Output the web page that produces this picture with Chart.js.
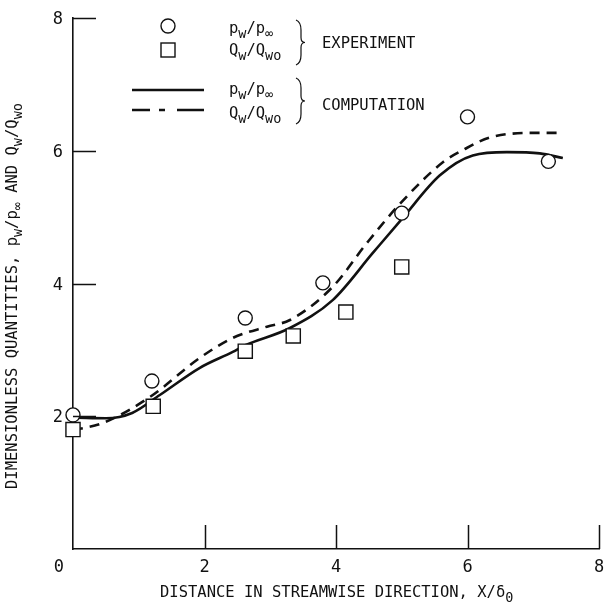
<!DOCTYPE html>
<html>
<head>
<meta charset="utf-8">
<script src="https://cdn.jsdelivr.net/npm/chart.js@4.4.1/dist/chart.umd.min.js"></script>
<style>
  html, body { margin: 0; padding: 0; background: #fff; }
  #wrap { width: 606px; height: 607px; }
</style>
</head>
<body>
<div id="wrap"><canvas id="flowChart" width="606" height="607"></canvas></div>
<script>
// experiment: wall pressure ratio (circles) and heating ratio (squares)
var expPressureX = [0.0, 1.2, 2.62, 3.8, 5.0, 6.0, 7.23];
var expPressure = [2.02, 2.53, 3.48, 4.01, 5.06, 6.51, 5.84];
var expHeatX = [0.0, 1.22, 2.62, 3.35, 4.15, 5.0];
var expHeat = [1.8, 2.15, 2.98, 3.21, 3.57, 4.25];

// computation: solid = pressure, dashed = heating
var compPressureX = [0.05, 0.5, 0.9, 1.32, 1.93, 2.43, 2.62, 3.3, 3.95, 4.56, 5.0, 5.58, 6.08, 6.6, 7.1, 7.45];
var compPressure = [1.98, 1.97, 2.05, 2.32, 2.73, 2.97, 3.07, 3.33, 3.75, 4.46, 4.97, 5.63, 5.93, 5.98, 5.96, 5.89];
var compHeatX = [0.0, 0.46, 1.17, 1.93, 2.43, 2.95, 3.3, 3.95, 4.47, 5.0, 5.63, 5.93, 6.34, 7.1, 7.38];
var compHeat = [1.79, 1.90, 2.29, 2.88, 3.18, 3.35, 3.45, 3.95, 4.61, 5.23, 5.83, 6.01, 6.2, 6.27, 6.27];

var xTicks = [0, 2, 4, 6, 8];
var yTicks = [2, 4, 6, 8];

var INK = '#111';
var MONO = '"DejaVu Sans Mono", monospace';
var MAIN_FONT = '15.5px ' + MONO;
var SUB_FONT = '13.5px ' + MONO;
var TICK_FONT = '17px ' + MONO;

function pairs(xs, ys) {
  return xs.map(function (x, i) { return { x: x, y: ys[i] }; });
}

// text with subscripts: parts = [[string, isSub], ...]
function richText(ctx, parts, x, y) {
  parts.forEach(function (p) {
    ctx.font = p[1] ? SUB_FONT : MAIN_FONT;
    ctx.fillText(p[0], x, y + (p[1] ? 5 : 0));
    x += ctx.measureText(p[0]).width;
  });
  return x;
}

var pRatio = [['p', 0], ['w', 1], ['/p', 0], ['\u221E', 1]];
var qRatio = [['Q', 0], ['w', 1], ['/Q', 0], ['wo', 1]];

function brace(ctx, x, top, bottom) {
  var mid = (top + bottom) / 2;
  ctx.beginPath();
  ctx.moveTo(x, top);
  ctx.quadraticCurveTo(x + 5, top + 2, x + 5, top + 10);
  ctx.lineTo(x + 5, mid - 5);
  ctx.quadraticCurveTo(x + 5, mid, x + 9, mid);
  ctx.quadraticCurveTo(x + 5, mid, x + 5, mid + 5);
  ctx.lineTo(x + 5, bottom - 10);
  ctx.quadraticCurveTo(x + 5, bottom - 2, x, bottom);
  ctx.stroke();
}

var paperText = {
  id: 'paperText',
  afterDraw: function (chart) {
    var ctx = chart.ctx;
    var xs = chart.scales.x, ys = chart.scales.y;
    var area = chart.chartArea;
    ctx.save();
    ctx.fillStyle = INK;
    ctx.strokeStyle = INK;

    // inward ticks
    ctx.lineWidth = 1.5;
    ctx.beginPath();
    yTicks.forEach(function (v) {
      var py = Math.round(ys.getPixelForValue(v)) + 0.5;
      ctx.moveTo(area.left, py);
      ctx.lineTo(area.left + 23, py);
    });
    xTicks.forEach(function (v) {
      if (v === 0) return;
      var px = Math.round(xs.getPixelForValue(v)) + 0.5;
      ctx.moveTo(px, area.bottom);
      ctx.lineTo(px, area.bottom - 24);
    });
    ctx.stroke();

    // tick labels
    ctx.font = TICK_FONT;
    ctx.textBaseline = 'alphabetic';
    ctx.textAlign = 'right';
    yTicks.forEach(function (v) {
      ctx.fillText(String(v), area.left - 10, ys.getPixelForValue(v) + 6);
    });
    xTicks.forEach(function (v) {
      if (v === 0) {
        ctx.textAlign = 'right';
        ctx.fillText('0', area.left - 9, area.bottom + 23);
      } else {
        ctx.textAlign = 'center';
        ctx.fillText(String(v), xs.getPixelForValue(v), area.bottom + 23);
      }
    });

    // axis titles
    ctx.textAlign = 'left';
    richText(ctx, [['DISTANCE IN STREAMWISE DIRECTION, X/\u03B4', 0], ['0', 1]], 160, 597);

    ctx.save();
    ctx.translate(17, 489);
    ctx.rotate(-Math.PI / 2);
    richText(ctx, [['DIMENSIONLESS QUANTITIES, ', 0]].concat(pRatio, [[' AND ', 0]], qRatio), 0, 0);
    ctx.restore();

    // key
    ctx.lineWidth = 1.4;
    ctx.beginPath();
    ctx.arc(168, 26, 7, 0, Math.PI * 2);
    ctx.stroke();
    ctx.strokeRect(161, 43, 14, 14);

    richText(ctx, pRatio, 229, 33);
    richText(ctx, qRatio, 229, 55);
    richText(ctx, pRatio, 229, 94);
    richText(ctx, qRatio, 229, 118);

    ctx.lineWidth = 1.2;
    brace(ctx, 296, 20, 65);
    brace(ctx, 296, 78, 124);

    ctx.font = MAIN_FONT;
    ctx.fillText('EXPERIMENT', 322, 48);
    ctx.fillText('COMPUTATION', 322, 110);

    ctx.lineWidth = 2.6;
    ctx.beginPath();
    ctx.moveTo(132, 90);
    ctx.lineTo(204, 90);
    ctx.stroke();
    ctx.setLineDash([18, 9, 6, 12, 27]);
    ctx.beginPath();
    ctx.moveTo(132, 110);
    ctx.lineTo(204, 110);
    ctx.stroke();
    ctx.setLineDash([]);

    ctx.restore();
  }
};

var axisBorder = { display: true, color: INK, width: 1.6 };

new Chart(document.getElementById('flowChart').getContext('2d'), {
  type: 'scatter',
  data: {
    datasets: [
      {
        label: 'pw/p computed',
        data: pairs(compPressureX, compPressure),
        showLine: true,
        borderColor: INK,
        borderWidth: 2.6,
        pointRadius: 0,
        cubicInterpolationMode: 'monotone',
        fill: false,
        order: 2
      },
      {
        label: 'Qw/Qwo computed',
        data: pairs(compHeatX, compHeat),
        showLine: true,
        borderColor: INK,
        borderWidth: 2.6,
        borderDash: [10, 7],
        pointRadius: 0,
        cubicInterpolationMode: 'monotone',
        fill: false,
        order: 2
      },
      {
        label: 'pw/p experiment',
        data: pairs(expPressureX, expPressure),
        pointStyle: 'circle',
        pointRadius: 7,
        pointBorderWidth: 1.4,
        pointBorderColor: INK,
        pointBackgroundColor: '#fff',
        clip: false,
        order: 0
      },
      {
        label: 'Qw/Qwo experiment',
        data: pairs(expHeatX, expHeat),
        pointStyle: 'rect',
        pointRadius: 10,
        pointBorderWidth: 1.4,
        pointBorderColor: INK,
        pointBackgroundColor: '#fff',
        clip: false,
        order: 0
      }
    ]
  },
  options: {
    responsive: false,
    animation: false,
    events: [],
    layout: {
      autoPadding: false,
      padding: { top: 18, right: 7, left: 0, bottom: 0 }
    },
    plugins: {
      legend: { display: false },
      tooltip: { enabled: false }
    },
    scales: {
      x: {
        type: 'linear',
        min: 0,
        max: 8,
        ticks: { display: false, stepSize: 2 },
        grid: { display: false },
        border: axisBorder,
        afterFit: function (scale) { scale.height = 58; }
      },
      y: {
        type: 'linear',
        min: 0,
        max: 8,
        ticks: { display: false, stepSize: 2 },
        grid: { display: false },
        border: axisBorder,
        afterFit: function (scale) { scale.width = 73; }
      }
    }
  },
  plugins: [paperText]
});
</script>
</body>
</html>
